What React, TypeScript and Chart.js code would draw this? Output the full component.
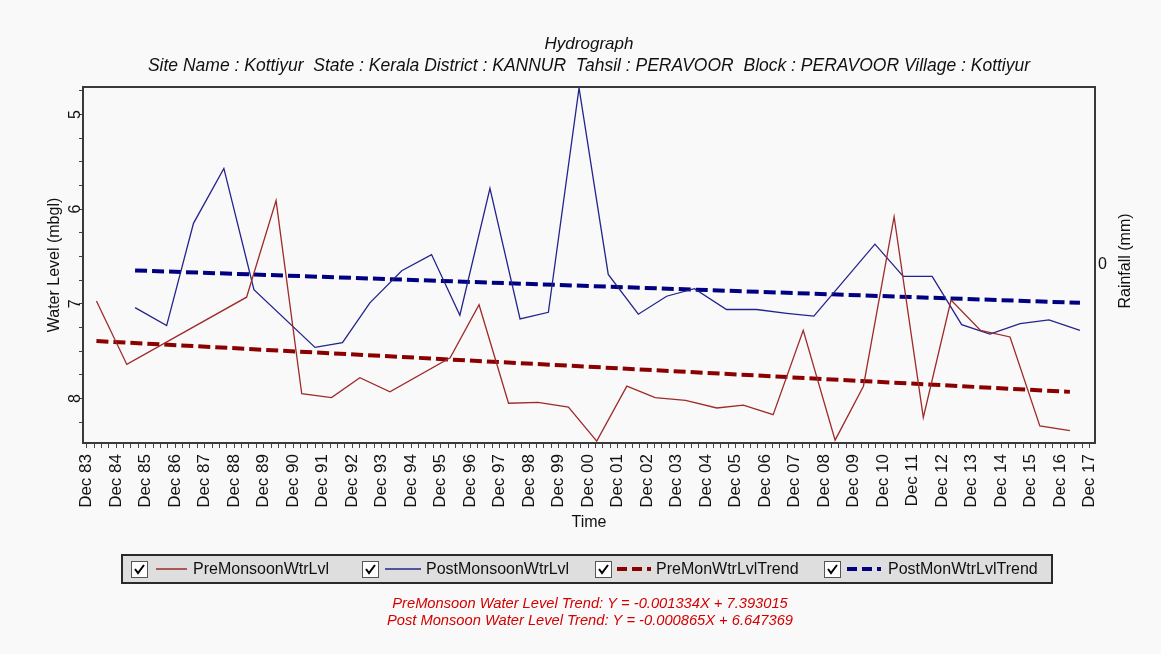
import React, { useEffect, useRef } from 'react';
import { Chart, registerables } from 'chart.js';

Chart.register(...registerables);

const FONT = '"Liberation Sans", Arial, sans-serif';

// x values are years counted from the "Dec 83" tick
const tickLabels = [
  'Dec 83', 'Dec 84', 'Dec 85', 'Dec 86', 'Dec 87', 'Dec 88', 'Dec 89', 'Dec 90', 'Dec 91',
  'Dec 92', 'Dec 93', 'Dec 94', 'Dec 95', 'Dec 96', 'Dec 97', 'Dec 98', 'Dec 99', 'Dec 00',
  'Dec 01', 'Dec 02', 'Dec 03', 'Dec 04', 'Dec 05', 'Dec 06', 'Dec 07', 'Dec 08', 'Dec 09',
  'Dec 10', 'Dec 11', 'Dec 12', 'Dec 13', 'Dec 14', 'Dec 15', 'Dec 16', 'Dec 17',
];

const preX = [0.33, 1.36, 5.42, 6.42, 7.29, 8.3, 9.26, 10.28, 12.32, 13.3, 14.3, 15.3, 16.33, 17.29, 18.31,
  19.27, 20.3, 21.36, 22.26, 23.27, 24.29, 25.37, 26.33, 27.37, 28.36, 29.3, 30.3, 31.3, 32.31, 33.33];
const preY = [6.97, 7.64, 6.93, 5.91, 7.95, 7.99, 7.78, 7.93, 7.57, 7.01, 8.05, 8.04, 8.09, 8.45, 7.87,
  7.99, 8.02, 8.10, 8.07, 8.17, 7.28, 8.44, 7.87, 6.08, 8.20, 6.96, 7.28, 7.35, 8.29, 8.34];

const postX = [1.64, 2.71, 3.62, 4.65, 5.67, 7.74, 8.67, 9.6, 10.68, 11.69, 12.65, 13.67, 14.69, 15.65,
  16.69, 17.68, 18.7, 19.66, 20.6, 21.69, 22.71, 23.73, 24.65, 26.72, 27.68, 28.66, 29.66, 30.62,
  31.64, 32.62, 33.67];
const postY = [7.04, 7.23, 6.15, 5.57, 6.85, 7.46, 7.41, 6.99, 6.65, 6.48, 7.12, 5.78, 7.16, 7.09,
  4.72, 6.69, 7.11, 6.92, 6.84, 7.06, 7.06, 7.10, 7.13, 6.37, 6.71, 6.71, 7.22, 7.32,
  7.21, 7.17, 7.28];

const preTrendX = [0.33, 33.33];
const preTrendY = [7.393, 7.93];
const postTrendX = [1.64, 33.67];
const postTrendY = [6.647, 6.99];

const yLabelValues = [5, 6, 7, 8];
const seriesNames = ['PreMonsoonWtrLvl', 'PostMonsoonWtrLvl', 'PreMonWtrLvlTrend', 'PostMonWtrLvlTrend'];
const titleText = 'Hydrograph';
const subtitleText =
  'Site Name : Kottiyur  State : Kerala District : KANNUR  Tahsil : PERAVOOR  Block : PERAVOOR Village : Kottiyur';
const trendTexts = [
  'PreMonsoon Water Level Trend: Y = -0.001334X + 7.393015',
  'Post Monsoon Water Level Trend: Y = -0.000865X + 6.647369',
];

const PRE_COLOR = '#9e2a2a';
const POST_COLOR = '#23238c';
const PRE_TREND = '#8b0000';
const POST_TREND = '#000080';
const BG = '#f9f9f9';

const toPts = (xs: number[], ys: number[]) => xs.map((x, i) => ({ x, y: ys[i] }));

const decorPlugin = {
  id: 'decor',
  beforeDraw(chart: any) {
    const { ctx, width, height } = chart;
    ctx.save();
    ctx.fillStyle = BG;
    ctx.fillRect(0, 0, width, height);
    ctx.restore();
  },
  afterDraw(chart: any) {
    const { ctx, chartArea: a, scales } = chart;
    ctx.save();
    // frame
    ctx.strokeStyle = '#3a3a3a';
    ctx.lineWidth = 2;
    ctx.strokeRect(a.left, a.top, a.right - a.left, a.bottom - a.top);

    // rotated y tick labels
    ctx.fillStyle = '#111';
    ctx.font = `16px ${FONT}`;
    ctx.textAlign = 'center';
    ctx.textBaseline = 'middle';
    yLabelValues.forEach((v) => {
      const y = scales.y.getPixelForValue(v);
      ctx.save();
      ctx.translate(a.left - 7, y);
      ctx.rotate(-Math.PI / 2);
      ctx.fillText(String(v), 0, 0);
      ctx.restore();
    });

    // right axis title
    ctx.save();
    ctx.translate(a.right + 31, (a.top + a.bottom) / 2 - 4);
    ctx.rotate(-Math.PI / 2);
    ctx.fillText('Rainfall (mm)', 0, 0);
    ctx.restore();

    // legend box
    const lx = 122, ly = 555, lw = 930, lh = 28;
    ctx.fillStyle = '#dedede';
    ctx.fillRect(lx, ly, lw, lh);
    ctx.strokeStyle = '#2a2a2a';
    ctx.lineWidth = 2;
    ctx.strokeRect(lx, ly, lw, lh);
    const cy = ly + lh / 2;
    const items = [
      { cb: 131, l1: 156, l2: 187, tx: 193, color: PRE_COLOR, dash: false },
      { cb: 362, l1: 385, l2: 421, tx: 426, color: POST_COLOR, dash: false },
      { cb: 595, l1: 617, l2: 651, tx: 656, color: PRE_TREND, dash: true },
      { cb: 824, l1: 847, l2: 881, tx: 888, color: POST_TREND, dash: true },
    ];
    items.forEach((it, i) => {
      // checkbox
      ctx.fillStyle = '#ffffff';
      ctx.fillRect(it.cb, cy - 8, 17, 17);
      ctx.strokeStyle = '#555';
      ctx.lineWidth = 1;
      ctx.strokeRect(it.cb + 0.5, cy - 7.5, 16, 16);
      ctx.strokeStyle = '#000';
      ctx.lineWidth = 2;
      ctx.beginPath();
      ctx.moveTo(it.cb + 4, cy);
      ctx.lineTo(it.cb + 7, cy + 4);
      ctx.lineTo(it.cb + 13, cy - 4);
      ctx.stroke();
      // sample
      ctx.strokeStyle = it.color;
      if (it.dash) {
        ctx.lineWidth = 4;
        ctx.setLineDash([10, 5]);
      } else {
        ctx.lineWidth = 1.5;
        ctx.setLineDash([]);
      }
      ctx.beginPath();
      ctx.moveTo(it.l1, cy);
      ctx.lineTo(it.l2, cy);
      ctx.stroke();
      ctx.setLineDash([]);
      // text
      ctx.fillStyle = '#111';
      ctx.font = `16px ${FONT}`;
      ctx.textAlign = 'left';
      ctx.textBaseline = 'middle';
      ctx.fillText(seriesNames[i], it.tx, cy + 1);
    });

    // trend equations
    ctx.fillStyle = '#d40000';
    ctx.font = `italic 14.7px ${FONT}`;
    ctx.textAlign = 'center';
    ctx.textBaseline = 'middle';
    ctx.fillText(trendTexts[0], 590, 604);
    ctx.fillText(trendTexts[1], 590, 621);
    ctx.restore();
  },
};

export default function App() {
  const ref = useRef<HTMLCanvasElement | null>(null);

  useEffect(() => {
    if (!ref.current) return;
    Chart.defaults.font.family = FONT;
    const chart = new Chart(ref.current, {
      type: 'line',
      data: {
        datasets: [
          {
            label: seriesNames[0],
            data: toPts(preX, preY),
            borderColor: PRE_COLOR,
            borderWidth: 1.3,
            pointRadius: 0,
            tension: 0,
          },
          {
            label: seriesNames[1],
            data: toPts(postX, postY),
            borderColor: POST_COLOR,
            borderWidth: 1.3,
            pointRadius: 0,
            tension: 0,
          },
          {
            label: seriesNames[2],
            data: toPts(preTrendX, preTrendY),
            borderColor: PRE_TREND,
            borderWidth: 4,
            borderDash: [12, 5],
            pointRadius: 0,
          },
          {
            label: seriesNames[3],
            data: toPts(postTrendX, postTrendY),
            borderColor: POST_TREND,
            borderWidth: 4,
            borderDash: [12, 5],
            pointRadius: 0,
          },
        ],
      },
      options: {
        animation: false,
        responsive: false,
        devicePixelRatio: 1,
        layout: { padding: { left: 0, right: 0, top: 0, bottom: 111 } },
        plugins: {
          legend: { display: false },
          tooltip: { enabled: false },
          title: {
            display: true,
            fullSize: false,
            text: titleText,
            color: '#111',
            font: { size: 17, style: 'italic', weight: 'normal', family: FONT },
            padding: { top: 34, bottom: 0 },
          },
          subtitle: {
            display: true,
            fullSize: false,
            text: subtitleText,
            color: '#111',
            font: { size: 17.5, style: 'italic', weight: 'normal', family: FONT },
            padding: { top: 1.1, bottom: 10.5 },
          },
        },
        scales: {
          x: {
            type: 'linear',
            position: 'bottom',
            min: -0.125,
            max: 34.18,
            afterFit: (s: any) => { s.height = 100; },
            border: { display: false },
            grid: { drawOnChartArea: false, drawTicks: true, tickLength: 5, color: '#444' },
            ticks: {
              stepSize: 0.25,
              includeBounds: false,
              autoSkip: false,
              minRotation: 90,
              maxRotation: 90,
              padding: 6,
              color: '#111',
              font: { size: 17, family: FONT },
              callback: (v: any) => (Number.isInteger(v) ? tickLabels[Math.abs(v)] ?? '' : ''),
            },
            title: {
              display: true,
              text: 'Time',
              color: '#111',
              font: { size: 16, family: FONT },
              padding: { top: 0, bottom: 11 },
            },
          },
          y: {
            type: 'linear',
            position: 'left',
            reverse: true,
            min: 4.71,
            max: 8.47,
            afterFit: (s: any) => { s.width = 83; },
            border: { display: false },
            grid: { drawOnChartArea: false, drawTicks: true, tickLength: 4, color: '#444' },
            ticks: { display: false, stepSize: 0.25, includeBounds: false },
            title: {
              display: true,
              text: 'Water Level (mbgl)',
              color: '#111',
              font: { size: 16, family: FONT },
              padding: { top: 45, bottom: 0 },
            },
          },
          y2: {
            type: 'linear',
            position: 'right',
            min: -1,
            max: 1,
            afterFit: (s: any) => { s.width = 66; },
            afterBuildTicks: (s: any) => { s.ticks = [{ value: 0 }]; },
            border: { display: false },
            grid: { drawOnChartArea: false, drawTicks: false },
            ticks: { padding: 3, color: '#111', font: { size: 16, family: FONT } },
          },
        },
      },
      plugins: [decorPlugin],
    } as any);
    return () => chart.destroy();
  }, []);

  return (
    <div style={{ position: 'fixed', left: 0, top: 0, width: 1161, height: 654, background: BG }}>
      <canvas ref={ref} width={1161} height={654} style={{ display: 'block' }} />
    </div>
  );
}
